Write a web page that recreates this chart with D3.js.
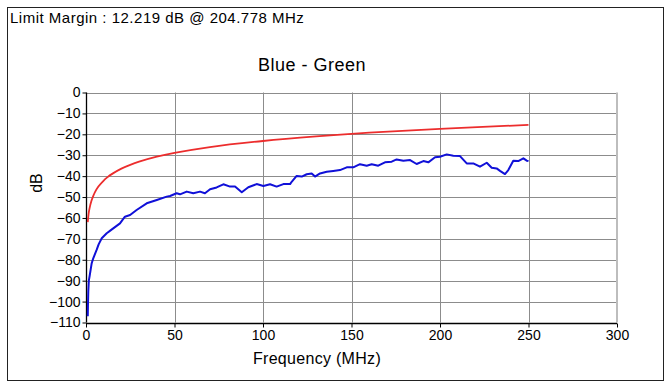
<!DOCTYPE html>
<html><head><meta charset="utf-8">
<script src="https://cdn.jsdelivr.net/npm/d3@7"></script>
<style>body{margin:0;background:#fff}svg{display:block;font-family:"Liberation Sans",Arial,sans-serif}</style>
</head><body><svg id="c" width="671" height="386"></svg>
<script>
const headerText = "Limit Margin : 12.219 dB @ 204.778 MHz";
const titleText = "Blue - Green";
const xLabel = "Frequency (MHz)";
const yLabel = "dB";
const xTicks = [0, 50, 100, 150, 200, 250, 300];
const yTicks = [0, -10, -20, -30, -40, -50, -60, -70, -80, -90, -100, -110];

const limitFreq = [1, 1.5, 2, 3, 4, 5, 7, 10, 12, 15, 20, 25, 30, 40, 50, 70, 100, 130, 160, 200, 250];
const limitDb   = [-62, -57.8, -55.4, -52, -49.7, -47.8, -45, -42.1, -40.6, -38.8, -36.4, -34.6, -33.1, -30.7, -28.9, -26.1, -23.2, -21, -19.2, -17.4, -15.5];

const measFreq = [1, 1.1, 1.3, 1.6, 2, 3.2, 4.1, 6, 7.2, 8.9, 11.7, 13.5, 15.4, 19.2, 22, 24.9, 28.6, 34.3, 40, 45.6, 47.5, 51.2, 53.1, 56.9, 60.6, 64.4, 67.2, 70.1, 73.8, 77.6, 81.4, 84.2, 88, 91.7, 96.4, 100.2, 104, 107.7, 111.5, 115.3, 116.2, 119, 121.9, 124.7, 127.5, 129.4, 132.2, 136, 139.7, 143.5, 147.3, 151, 154.8, 158.6, 161.4, 165.1, 168.9, 172.7, 175.5, 179.3, 183.1, 186.8, 190.6, 193.4, 197.2, 200, 203.8, 207.5, 211.3, 215.1, 218.8, 222.6, 226.4, 229.2, 232, 233.9, 236.7, 238.6, 241.4, 244.2, 247.1, 249, 250];
const measDb   = [-107, -102, -95, -90, -88, -81.7, -79.3, -75.3, -72.5, -69.7, -67.3, -66.2, -65, -62.6, -59.4, -58.6, -56.2, -53, -51.4, -49.8, -49.5, -48.2, -48.7, -47.4, -48.2, -47.4, -48.2, -46.3, -45.4, -43.9, -45, -45, -47.7, -45.3, -43.8, -44.7, -43.9, -45, -43.8, -43.8, -42.7, -39.9, -40.2, -39.1, -38.7, -40.2, -38.7, -37.9, -37.5, -37.1, -35.8, -35.8, -34.3, -35, -34.3, -35, -33.4, -33.1, -32, -32.6, -32.3, -34.2, -32.8, -33.4, -31, -30.7, -29.6, -30.2, -30.4, -33.9, -33.9, -35.5, -33.6, -36, -36.3, -37.5, -39, -37.1, -32.6, -32.8, -31.5, -32.6, -32.8];

const svg = d3.select("#c");
svg.append("rect").attr("x",0).attr("y",0).attr("width",671).attr("height",386).attr("fill","#fff");
svg.append("rect").attr("x",7.5).attr("y",7.5).attr("width",656).attr("height",373)
  .attr("fill","none").attr("stroke","#222").attr("stroke-width",1);

const x = d3.scaleLinear().domain([0,300]).range([86,617]);
const y = d3.scaleLinear().domain([-110,0]).range([322.5,92.5]);

// grid
const g = svg.append("g");
g.selectAll(".gx").data(xTicks.filter(t=>t>0 && t<300)).join("line")
  .attr("x1",d=>Math.round(x(d))+0.5).attr("x2",d=>Math.round(x(d))+0.5)
  .attr("y1",y(0)).attr("y2",y(-110)).attr("stroke","#8c8c8c").attr("stroke-width",1);
g.selectAll(".gy").data(yTicks.filter(t=>t>-110)).join("line")
  .attr("x1",x(0)).attr("x2",x(300))
  .attr("y1",d=>Math.round(y(d))+0.5).attr("y2",d=>Math.round(y(d))+0.5).attr("stroke","#8c8c8c").attr("stroke-width",1);
// right edge
g.append("line").attr("x1",x(300)).attr("x2",x(300)).attr("y1",y(0)).attr("y2",y(-110))
  .attr("stroke","#bdbdbd").attr("stroke-width",2);

// axes
const xAxis = d3.axisBottom(x).tickValues(xTicks).tickSize(4).tickPadding(3).tickFormat(d3.format("d"));
const yAxis = d3.axisLeft(y).tickValues(yTicks).tickSize(4).tickPadding(2).tickFormat(d3.format("d"));
const gx = svg.append("g").attr("transform",`translate(0,${Math.round(y(-110))+0.5})`).call(xAxis);
const gy = svg.append("g").attr("transform",`translate(${Math.round(x(0))+0.5},0)`).call(yAxis);
[gx,gy].forEach(a=>{
  a.select(".domain").attr("stroke","#000").attr("stroke-width",1.3);
  a.selectAll(".tick line").attr("stroke","#000");
  a.selectAll("text").attr("font-size",14).attr("fill","#000").attr("font-family","Liberation Sans, Arial, sans-serif");
});
gx.select(".domain").attr("d",`M${x(0)},0H${x(300)}`);
gy.select(".domain").attr("d",`M0,${y(0)}V${y(-110)}`);

// lines
const clipId = "plotclip";
svg.append("clipPath").attr("id",clipId).append("rect")
  .attr("x",x(0)).attr("y",y(0)-2).attr("width",x(300)-x(0)).attr("height",y(-110)-y(0)+2);
svg.append("path").datum(limitFreq.map((f,i)=>[f,limitDb[i]]))
  .attr("d",d3.line().x(d=>x(d[0])).y(d=>y(d[1])).curve(d3.curveCatmullRom)).attr("fill","none").attr("stroke","#ec2d2d").attr("stroke-width",1.8);
svg.append("path").datum(measFreq.map((f,i)=>[f,measDb[i]]))
  .attr("d",d3.line().x(d=>x(d[0])).y(d=>y(d[1]))).attr("fill","none").attr("stroke","#1010d8").attr("stroke-width",2)
  .attr("stroke-linejoin","round").attr("clip-path",`url(#${clipId})`);

// texts
svg.append("text").attr("x",10).attr("y",23).attr("font-size",15).attr("letter-spacing",0.5).text(headerText);
svg.append("text").attr("x",312).attr("y",71).attr("text-anchor","middle").attr("font-size",18).attr("letter-spacing",0.5).text(titleText);
svg.append("text").attr("x",317).attr("y",364).attr("text-anchor","middle").attr("font-size",16).attr("letter-spacing",0.3).text(xLabel);
svg.append("text").attr("transform","translate(42,183) rotate(-90)").attr("text-anchor","middle").attr("font-size",16).text(yLabel);
</script></body></html>
